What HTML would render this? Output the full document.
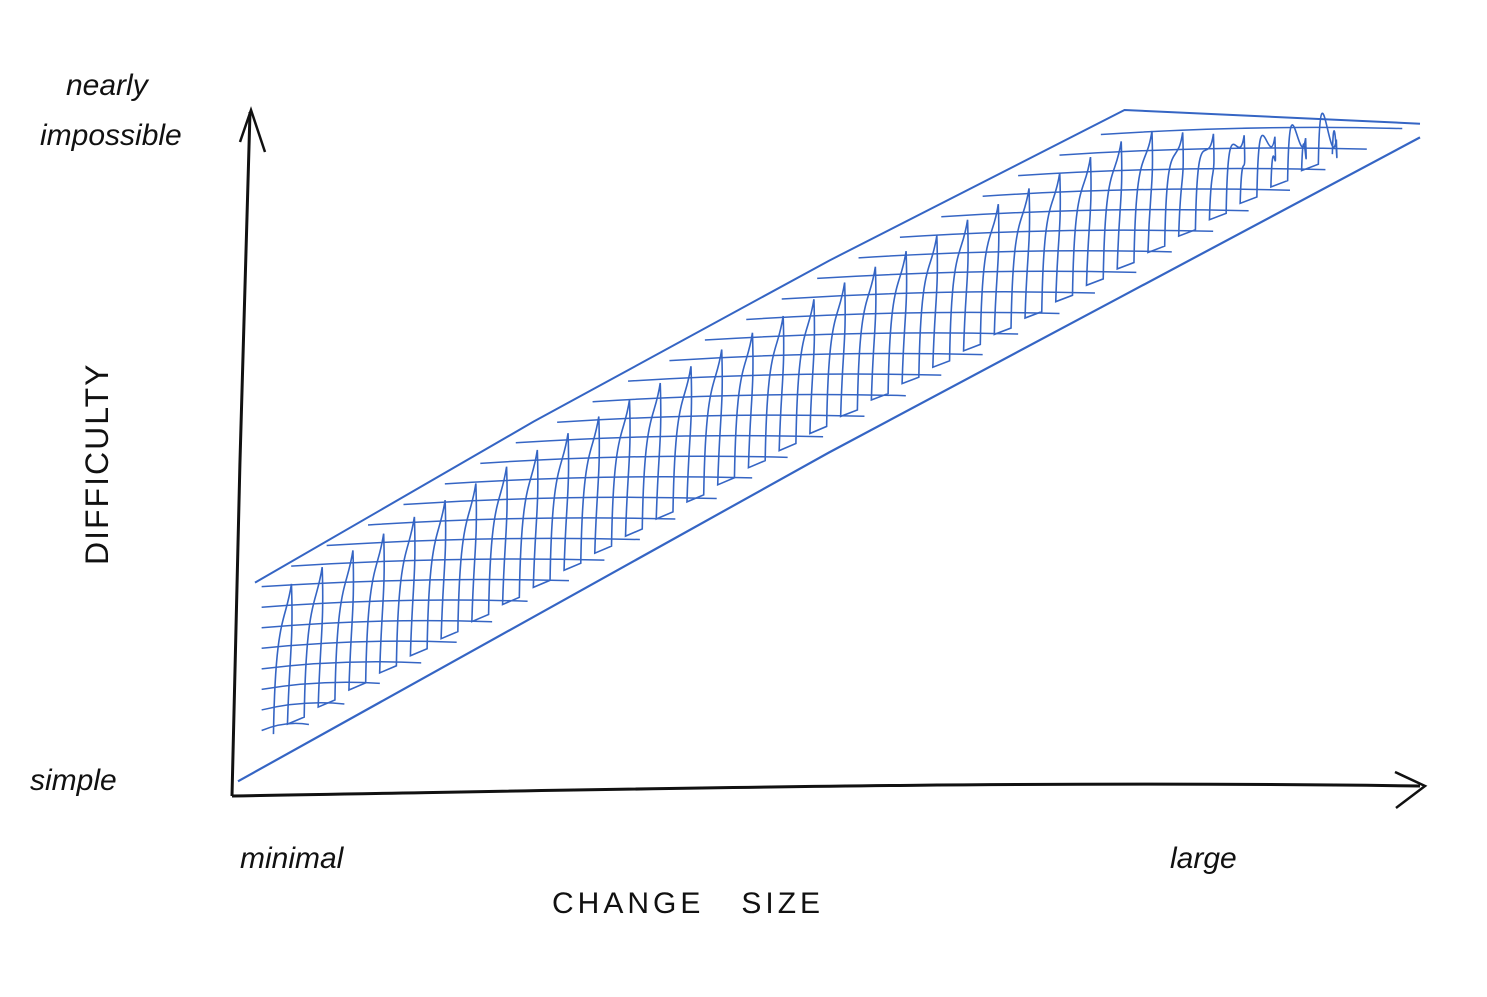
<!DOCTYPE html>
<html><head><meta charset="utf-8"><style>
html,body{margin:0;padding:0;background:#fff}
svg{display:block}
text{font-family:"Liberation Sans",sans-serif;fill:#111}
</style></head><body>
<svg id="chart" width="1487" height="997" viewBox="0 0 1487 997" xmlns="http://www.w3.org/2000/svg">
<rect width="1487" height="997" fill="#fff"/>
<g id="band"></g>
<path d="M232,796 C236,600 244,300 250,112" stroke="#111" stroke-width="3" fill="none"/>
<path d="M240,142 L251,110 L265,152" stroke="#111" stroke-width="2.5" fill="none"/>
<path d="M232,796 C600,790 1000,780 1420,786" stroke="#111" stroke-width="3" fill="none"/>
<path d="M1395,772 L1425,786 L1396,808" stroke="#111" stroke-width="2.5" fill="none"/>
<text x="66" y="95" font-size="30" font-style="italic">nearly</text>
<text x="40" y="145" font-size="30" font-style="italic">impossible</text>
<text x="30" y="790" font-size="30" font-style="italic">simple</text>
<text x="0" y="0" font-size="32" letter-spacing="2" transform="translate(108,565) rotate(-90)">DIFFICULTY</text>
<text x="240" y="868" font-size="30" font-style="italic">minimal</text>
<text x="1170" y="868" font-size="30" font-style="italic">large</text>
<text x="552" y="913" font-size="30" letter-spacing="4">CHANGE&#160;&#160;&#160;SIZE</text>
</svg>
<script>
const changeSize = [0.0, 0.25, 0.5, 0.75, 1.0];
const lowerDifficulty = [0.02, 0.26, 0.50, 0.73, 0.96];
const upperDifficulty = [0.31, 0.545, 0.78, 1.0, 0.98];

const X0 = 238, X1 = 1420, Y0 = 795, Y1 = 110;
function sx(v){ return X0 + v*(X1-X0); }
function sy(v){ return Y0 - v*(Y0-Y1); }
function interp(arr, t){
  for(let i=0;i<changeSize.length-1;i++){
    if(t<=changeSize[i+1]){
      const f=(t-changeSize[i])/(changeSize[i+1]-changeSize[i]);
      return arr[i]+f*(arr[i+1]-arr[i]);
    }
  }
  return arr[arr.length-1];
}
const g=document.getElementById('band');
const NS='http://www.w3.org/2000/svg';
const col='#3565c4';
function mk(d,w,name){
  const p=document.createElementNS(NS,'path');
  p.setAttribute('d',d);p.setAttribute('stroke',col);p.setAttribute('stroke-width',w);p.setAttribute('fill','none');
  
  
  g.appendChild(p);
}
let dl='',du='';
changeSize.forEach((c,i)=>{
  dl+=(i?'L':'M')+sx(c)+','+sy(lowerDifficulty[i]);
  const ux = i===0 ? sx(c)+17 : sx(c);
  du+=(i?'L':'M')+ux+','+sy(upperDifficulty[i]);
});
mk(dl,2.2,'band-lower-edge');
mk(du,2,'band-upper-edge');
let dv='';
for(let t=0.03;t<0.93;t+=0.026){
  const lo=interp(lowerDifficulty,t)+0.04, hi=interp(upperDifficulty,t)-0.03;
  const x=sx(t), yl=sy(lo), yh=sy(hi);
  dv+=(dv?'L':'M')+x+','+yl+' C'+(x+2)+','+(yl-120)+' '+(x+12)+','+(yh+40)+' '+(x+18)+','+yh+' C'+(x+20)+','+(yh+60)+' '+(x+16)+','+(yl-80)+' '+(x+14)+','+(yl-10)+' ';
}
mk(dv,1.6,'band-scribble-vertical');
let dh='';
for(let v=0.1;v<0.98;v+=0.03){
  let a=null,b=null;
  for(let t=0;t<=1;t+=0.005){
    const lo=interp(lowerDifficulty,t)+0.02, hi=interp(upperDifficulty,t)-0.01;
    if(v>=lo&&v<=hi){ if(a===null)a=t; b=t; }
  }
  if(a===null)continue;
  a=Math.max(a,0.02);
  const y=sy(v);
  dh+='M'+sx(a)+','+(y+4)+' Q'+sx((a+b)/2)+','+(y-6)+' '+sx(b)+','+(y-2)+' ';
}
mk(dh,1.5,'band-scribble-horizontal');
</script>
</body></html>
